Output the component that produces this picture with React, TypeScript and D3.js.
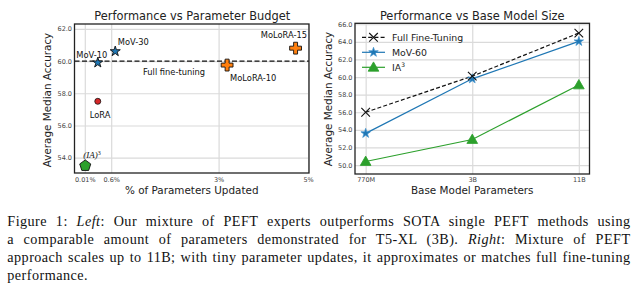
import React, { useRef, useEffect } from 'react';
import * as d3 from 'd3';

// left panel: performance vs parameter budget
const budgetNames = ['(IA)3', 'LoRA', 'MoV-10', 'MoV-30', 'MoLoRA-10', 'MoLoRA-15'];
const budgetPct = [0.02, 0.3, 0.3, 0.69, 3.19, 4.72];
const budgetAcc = [53.5, 57.5, 59.9, 60.6, 59.75, 60.8];
const fullFineTuning = 60.0;
const budgetXTicks = [0.01, 0.6, 3, 5];
const budgetXLabels = ['0.01%', '0.6%', '3%', '5%'];
const budgetYTicks = [54, 56, 58, 60, 62];

// right panel: performance vs base model size
const modelSizes = ['770M', '3B', '11B'];
const fullFtSeries = [56.0, 60.1, 65.0];
const mov60Series = [53.6, 59.8, 64.05];
const ia3Series = [50.4, 52.9, 59.1];
const sizeYTicks = [50, 52, 54, 56, 58, 60, 62, 64, 66];

const captionLines = [
  [['Figure 1: ', false], ['Left', true], [': Our mixture of PEFT experts outperforms SOTA single PEFT methods using', false]],
  [['a comparable amount of parameters demonstrated for T5-XL (3B). ', false], ['Right', true], [': Mixture of PEFT', false]],
  [['approach scales up to 11B; with tiny parameter updates, it approximates or matches full fine-tuning', false]],
  [['performance.', false]],
] as [string, boolean][][];

const blue = '#1f77b4';
const orange = '#ff7f0e';
const green = '#2ca02c';
const red = '#d62728';
const sans = 'DejaVu Sans, sans-serif';

const pentagon = (r: number) =>
  d3.range(5).map(k => {
    const a = -Math.PI / 2 + (k * 2 * Math.PI) / 5;
    return `${k ? 'L' : 'M'}${r * Math.cos(a)},${r * Math.sin(a)}`;
  }).join('') + 'Z';

const App: React.FC = () => {
  const svgRef = useRef<SVGSVGElement | null>(null);

  useEffect(() => {
    if (!svgRef.current) return;
    const svg = d3.select(svgRef.current);
    svg.selectAll('*').remove();

    const styleAxis = (g: d3.Selection<SVGGElement, unknown, null, undefined>) => {
      g.select('.domain').remove();
      g.selectAll('text').style('font-family', sans).style('font-size', '6.5px').attr('fill', '#444');
    };

    // ---------- left panel ----------
    const L = { left: 74.5, right: 309, top: 24, bottom: 173 };
    const xL = d3.scaleLinear().domain([-0.22, 5.02]).range([L.left, L.right]);
    const yL = d3.scaleLinear().domain([53.05, 62.3]).range([L.bottom, L.top]);
    const gL = svg.append('g');

    gL.append('g')
      .attr('transform', `translate(0,${L.bottom})`)
      .call(d3.axisBottom(xL).tickValues(budgetXTicks).tickSize(-(L.bottom - L.top)).tickFormat(() => ''))
      .call(g => g.select('.domain').remove())
      .selectAll('line').attr('stroke', '#dadada').attr('stroke-width', 1.2);
    gL.append('g')
      .attr('transform', `translate(${L.left},0)`)
      .call(d3.axisLeft(yL).tickValues(budgetYTicks).tickSize(-(L.right - L.left)).tickFormat(() => ''))
      .call(g => g.select('.domain').remove())
      .selectAll('line').attr('stroke', '#dadada').attr('stroke-width', 1.2);

    gL.append('g')
      .attr('transform', `translate(0,${L.bottom})`)
      .call(d3.axisBottom(xL).tickValues(budgetXTicks).tickSize(0).tickPadding(4)
        .tickFormat((_, i) => budgetXLabels[i]))
      .call(styleAxis);
    gL.append('g')
      .attr('transform', `translate(${L.left},0)`)
      .call(d3.axisLeft(yL).tickValues(budgetYTicks).tickSize(0).tickPadding(2.5).tickFormat(d3.format('.1f')))
      .call(styleAxis);

    // full fine-tuning reference
    gL.append('line')
      .attr('x1', L.left).attr('x2', L.right)
      .attr('y1', yL(fullFineTuning)).attr('y2', yL(fullFineTuning))
      .attr('stroke', '#111').attr('stroke-width', 1.3).attr('stroke-dasharray', '5,2.5');

    const star = d3.symbol().type(d3.symbolStar);
    const plus = d3.symbol().type(d3.symbolCross).size(78);
    budgetNames.forEach((name, i) => {
      const t = `translate(${xL(budgetPct[i])},${yL(budgetAcc[i])})`;
      if (name.startsWith('MoV')) {
        gL.append('path').attr('d', star.size(32)()).attr('transform', t)
          .attr('fill', blue).attr('stroke', '#111').attr('stroke-width', 0.9);
      } else if (name.startsWith('MoLoRA')) {
        gL.append('path').attr('d', plus()).attr('transform', t)
          .attr('fill', orange).attr('stroke', '#111').attr('stroke-width', 0.9);
      } else if (name === 'LoRA') {
        gL.append('circle').attr('r', 3).attr('transform', t)
          .attr('fill', red).attr('stroke', '#111').attr('stroke-width', 0.8);
      } else {
        gL.append('path').attr('d', pentagon(5.8)).attr('transform', t)
          .attr('fill', green).attr('stroke', '#111').attr('stroke-width', 0.9);
      }
    });

    const lab = (x: number, y: number, s: string, anchor = 'start') =>
      gL.append('text').attr('x', x).attr('y', y).attr('text-anchor', anchor)
        .style('font-family', sans).style('font-size', '8.3px').attr('fill', '#111').text(s);
    lab(xL(budgetPct[2]) - 6, yL(budgetAcc[2]) - 5, 'MoV-10', 'middle');
    lab(xL(budgetPct[3]) + 2.5, yL(budgetAcc[3]) - 6.5, 'MoV-30');
    lab(xL(budgetPct[1]) + 2.3, yL(budgetAcc[1]) + 16.5, 'LoRA', 'middle');
    lab(143, yL(fullFineTuning) + 13.5, 'Full fine-tuning');
    lab(xL(budgetPct[4]) + 3, yL(budgetAcc[4]) + 15.5, 'MoLoRA-10');
    lab(L.right - 2, yL(budgetAcc[5]) - 10.5, 'MoLoRA-15', 'end');
    const ia = gL.append('text').attr('x', xL(budgetPct[0]) - 2).attr('y', yL(budgetAcc[0]) - 7.5)
      .style('font-family', 'Liberation Serif, serif').style('font-size', '9px').attr('fill', '#111');
    ia.append('tspan').style('font-style', 'italic').text('(IA)');
    ia.append('tspan').attr('dy', -3.5).style('font-size', '6px').text('3');

    gL.append('rect').attr('x', L.left).attr('y', L.top)
      .attr('width', L.right - L.left).attr('height', L.bottom - L.top)
      .attr('fill', 'none').attr('stroke', '#222').attr('stroke-width', 1.3);

    gL.append('text').attr('x', (L.left + L.right) / 2 + 0.5).attr('y', 19.7).attr('text-anchor', 'middle')
      .style('font-family', sans).style('font-size', '11.4px').attr('fill', '#222')
      .text('Performance vs Parameter Budget');
    gL.append('text').attr('x', (L.left + L.right) / 2).attr('y', 194).attr('text-anchor', 'middle')
      .style('font-family', sans).style('font-size', '10.4px').attr('fill', '#222')
      .text('% of Parameters Updated');
    gL.append('text').attr('transform', 'translate(50.7,100) rotate(-90)').attr('text-anchor', 'middle')
      .style('font-family', sans).style('font-size', '10.4px').attr('fill', '#222')
      .text('Average Median Accuracy');

    // ---------- right panel ----------
    const R = { left: 355, right: 589.5, top: 23.3, bottom: 174 };
    const xR = d3.scalePoint<string>().domain(modelSizes).range([R.left, R.right]).padding(0.1);
    const yR = d3.scaleLinear().domain([48.98, 66.11]).range([R.bottom, R.top]);
    const gR = svg.append('g');

    gR.append('g')
      .attr('transform', `translate(0,${R.bottom})`)
      .call(d3.axisBottom(xR).tickSize(-(R.bottom - R.top)).tickFormat(() => ''))
      .call(g => g.select('.domain').remove())
      .selectAll('line').attr('stroke', '#dadada').attr('stroke-width', 1.2);
    gR.append('g')
      .attr('transform', `translate(${R.left},0)`)
      .call(d3.axisLeft(yR).tickValues(sizeYTicks).tickSize(-(R.right - R.left)).tickFormat(() => ''))
      .call(g => g.select('.domain').remove())
      .selectAll('line').attr('stroke', '#dadada').attr('stroke-width', 1.2);

    gR.append('g')
      .attr('transform', `translate(0,${R.bottom})`)
      .call(d3.axisBottom(xR).tickSize(0).tickPadding(3.5))
      .call(styleAxis);
    gR.append('g')
      .attr('transform', `translate(${R.left},0)`)
      .call(d3.axisLeft(yR).tickValues(sizeYTicks).tickSize(0).tickPadding(2.5).tickFormat(d3.format('.1f')))
      .call(styleAxis);

    const line = d3.line<number>().x((_, i) => xR(modelSizes[i]) ?? 0).y(d => yR(d));
    gR.append('path').datum(ia3Series).attr('d', line).attr('fill', 'none')
      .attr('stroke', green).attr('stroke-width', 1.2);
    gR.append('path').datum(mov60Series).attr('d', line).attr('fill', 'none')
      .attr('stroke', blue).attr('stroke-width', 1.2);
    gR.append('path').datum(fullFtSeries).attr('d', line).attr('fill', 'none')
      .attr('stroke', '#111').attr('stroke-width', 1.2).attr('stroke-dasharray', '4,2.2');

    const tri = d3.symbol().type(d3.symbolTriangle).size(50);
    const starR = d3.symbol().type(d3.symbolStar).size(28);
    const xMark = (g: d3.Selection<SVGGElement, unknown, null, undefined>, h: number) => {
      g.append('path').attr('d', `M${-h},${-h}L${h},${h}M${-h},${h}L${h},${-h}`)
        .attr('stroke', '#111').attr('stroke-width', 1.1).attr('fill', 'none');
    };
    ia3Series.forEach((v, i) => {
      gR.append('path').attr('d', tri()).attr('transform', `translate(${xR(modelSizes[i])},${yR(v) + 0.8})`)
        .attr('fill', green).attr('stroke', green).attr('stroke-width', 0.8);
    });
    mov60Series.forEach((v, i) => {
      gR.append('path').attr('d', starR()).attr('transform', `translate(${xR(modelSizes[i])},${yR(v)})`)
        .attr('fill', blue).attr('stroke', '#3d8fcc').attr('stroke-width', 0.7);
    });
    fullFtSeries.forEach((v, i) => {
      const g = gR.append('g').attr('transform', `translate(${xR(modelSizes[i])},${yR(v)})`);
      xMark(g, 4.3);
    });

    // legend
    const legend = gR.append('g').attr('transform', `translate(${R.left + 7},${R.top + 14})`);
    const items = ['Full Fine-Tuning', 'MoV-60', 'IA'];
    items.forEach((name, i) => {
      const row = legend.append('g').attr('transform', `translate(0,${i * 15})`);
      const ln = row.append('line').attr('x1', 0).attr('x2', 23).attr('y1', 0).attr('y2', 0).attr('stroke-width', 1.2);
      if (i === 0) {
        ln.attr('stroke', '#111').attr('stroke-dasharray', '4,2.2');
        const m = row.append('g').attr('transform', 'translate(11.5,0)');
        xMark(m, 4.3);
      } else if (i === 1) {
        ln.attr('stroke', blue);
        row.append('path').attr('d', starR()).attr('transform', 'translate(11.5,0)')
          .attr('fill', blue).attr('stroke', '#3d8fcc').attr('stroke-width', 0.7);
      } else {
        ln.attr('stroke', green);
        row.append('path').attr('d', tri()).attr('transform', 'translate(11.5,0.8)')
          .attr('fill', green).attr('stroke', green).attr('stroke-width', 0.8);
      }
      const t = row.append('text').attr('x', 30).attr('y', 3.4)
        .style('font-family', sans).style('font-size', '9.4px').attr('fill', '#222').text(name);
      if (i === 2) t.append('tspan').attr('dy', -3.5).style('font-size', '6px').text('3');
    });

    gR.append('rect').attr('x', R.left).attr('y', R.top)
      .attr('width', R.right - R.left).attr('height', R.bottom - R.top)
      .attr('fill', 'none').attr('stroke', '#222').attr('stroke-width', 1.3);

    gR.append('text').attr('x', (R.left + R.right) / 2).attr('y', 19.7).attr('text-anchor', 'middle')
      .style('font-family', sans).style('font-size', '11.4px').attr('fill', '#222')
      .text('Performance vs Base Model Size');
    gR.append('text').attr('x', (R.left + R.right) / 2).attr('y', 194).attr('text-anchor', 'middle')
      .style('font-family', sans).style('font-size', '10.4px').attr('fill', '#222')
      .text('Base Model Parameters');
    gR.append('text').attr('transform', 'translate(332.4,99) rotate(-90)').attr('text-anchor', 'middle')
      .style('font-family', sans).style('font-size', '10.4px').attr('fill', '#222')
      .text('Average Median Accuracy');

    // ---------- caption ----------
    const capLeft = 7.3;
    const capWidth = 623.2;
    captionLines.forEach((parts, i) => {
      const t = svg.append('text').attr('x', capLeft).attr('y', 225.5 + i * 18)
        .style('font-family', 'Liberation Serif, serif').style('font-size', '14.2px')
        .style('letter-spacing', '0.45px').attr('fill', '#111')
        .attr('xml:space', 'preserve');
      parts.forEach(([s, it]) => {
        t.append('tspan').style('font-style', it ? 'italic' : 'normal').text(s);
      });
      if (i < captionLines.length - 1) {
        const node = t.node() as SVGTextElement;
        const w = node.getComputedTextLength();
        const spaces = parts.map(p => p[0]).join('').split(' ').length - 1;
        if (spaces > 0) t.style('word-spacing', `${Math.max(0, (capWidth - w) / spaces)}px`);
      }
    });
  }, []);

  return (
    <svg
      ref={svgRef}
      width={641}
      height={291}
      style={{ position: 'absolute', left: 0, top: 0, background: '#fff' }}
    />
  );
};

export default App;
